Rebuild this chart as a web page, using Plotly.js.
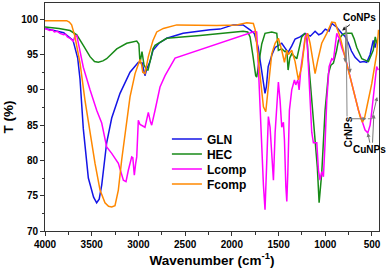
<!DOCTYPE html>
<html>
<head>
<meta charset="utf-8">
<script src="https://cdn.plot.ly/plotly-3.0.1.min.js"></script>
<style>html,body{margin:0;padding:0;background:#fff;}#chart{width:387px;height:275px;}</style>
</head>
<body>
<div id="chart"></div>
<script>
// ---- data ----
const seriesNames = ["GLN", "HEC", "Lcomp", "Fcomp"];

const glnWn = [4000,3900,3800,3700,3650,3625,3590,3536,3480,3447,3420,3393,3340,3286,3197,3090,3001,2960,2948,2930,2910,2876,2844,2780,2697,2522,2234,2126,1987,1880,1805,1760,1718,1690,1665,1645,1630,1611,1570,1537,1500,1466,1430,1398,1360,1323,1270,1216,1160,1109,1070,1038,1000,960,931,880,824,790,752,720,681,627,590,556,520,487,467,450];
const glnT  = [98.7,98.4,98.1,97.0,94.5,91.5,84.5,77.5,74.8,74.0,74.5,76.5,82.5,86.0,89.5,92.5,93.9,93.8,93.2,92.0,93.0,94.0,95.6,96.6,97.3,98.0,98.5,98.6,99.2,99.2,98.5,98.0,96.0,93.5,91.0,89.5,90.5,93.3,95.0,96.0,96.3,96.6,95.9,95.3,96.2,97.2,97.5,98.0,97.6,98.3,97.8,98.0,98.6,98.3,99.4,98.9,98.0,97.6,96.6,95.5,94.6,93.9,94.0,93.9,95.0,97.0,96.0,97.0];

const hecWn = [4000,3850,3732,3660,3590,3518,3470,3429,3380,3340,3232,3125,3018,2995,2983,2962,2940,2910,2897,2870,2844,2822,2697,2340,1880,1830,1805,1773,1745,1734,1715,1680,1645,1573,1519,1502,1466,1430,1412,1398,1380,1359,1305,1252,1216,1195,1180,1145,1109,1085,1066,1050,1038,1002,966,940,913,880,859,820,788,716,690,663,609,538,487,465,450];
const hecT  = [98.9,98.7,98.4,97.8,96.3,94.7,94.0,93.9,94.1,94.4,95.8,96.6,96.9,96.5,93.8,95.4,93.5,92.8,92.8,94.5,95.8,96.3,97.3,97.7,98.3,98.2,97.5,94.7,92.0,91.8,93.5,96.5,98.0,98.2,98.0,95.6,95.8,95.4,95.6,92.8,94.5,95.1,94.4,97.5,98.0,97.0,94.2,88.5,82.4,79.0,74.0,76.5,78.2,87.1,92.3,93.5,93.8,95.5,97.0,97.8,98.0,98.0,97.2,96.0,94.4,94.0,95.6,97.5,96.6];

const lcompWn = [4000,3950,3920,3900,3870,3840,3800,3780,3760,3732,3697,3680,3660,3640,3590,3518,3447,3393,3340,3286,3215,3161,3133,3108,3072,3060,3044,3030,3018,3001,2983,2930,2894,2872,2858,2822,2804,2769,2715,2626,2608,1752,1734,1716,1698,1680,1662,1645,1627,1609,1591,1573,1555,1537,1519,1502,1484,1466,1448,1437,1422,1412,1401,1384,1359,1330,1316,1294,1280,1259,1234,1216,1198,1180,1163,1145,1127,1091,1073,1056,1038,1020,1002,984,959,931,913,895,877,849,824,788,752,716,681,645,609,574,545,520,502,484,467,450,432];
const lcompT  = [98.7,98.4,98.5,98.2,98.3,98.0,97.8,97.9,97.5,97.3,96.9,97.6,97.7,96.5,93.2,90.0,87.1,85.3,81.9,81.0,79.6,77.2,77.0,78.6,80.5,80.4,77.9,79.5,80.5,85.7,85.1,84.7,86.8,85.5,85.0,87.1,88.1,90.4,92.0,94.2,94.5,98.3,98.2,93.2,86.7,81.0,76.5,73.0,79.1,86.2,84.7,80.1,77.2,83.9,88.5,91.1,88.5,84.7,85.4,82.9,76.3,74.2,78.2,87.1,90.0,91.4,90.7,91.4,90.0,93.3,95.6,97.5,98.0,93.3,87.1,84.0,82.5,82.5,78.6,77.2,78.4,77.7,82.5,88.5,93.3,94.4,94.2,96.6,98.0,97.2,96.0,94.7,92.8,91.2,89.0,87.1,85.7,84.3,83.9,85.0,87.0,89.0,91.4,93.3,92.8];

const fcompWn = [4000,3768,3740,3715,3679,3625,3572,3518,3465,3411,3358,3320,3286,3251,3215,3179,3143,3090,3036,2983,2965,2954,2930,2894,2844,2804,2733,2590,2162,1948,1840,1770,1750,1734,1698,1662,1637,1609,1573,1537,1502,1466,1437,1412,1395,1359,1323,1288,1252,1216,1188,1163,1127,1109,1080,1038,984,931,895,841,788,734,681,627,602,580,556,502,450,430];
const fcompT  = [99.8,99.8,99.6,99.2,97.5,93.8,88.5,83.9,79.6,75.8,74.0,73.5,73.4,73.6,75.8,80.1,83.9,89.0,92.3,94.3,93.5,92.5,92.3,94.7,97.0,98.2,98.7,99.2,99.1,99.2,99.5,99.4,98.5,96.6,91.8,87.6,86.9,90.9,95.1,96.6,97.3,95.6,93.9,95.6,95.0,95.6,94.0,91.4,93.3,97.2,98.0,96.6,93.3,92.3,94.2,96.6,98.0,99.6,99.5,97.5,94.6,91.8,89.0,86.2,85.4,86.0,87.5,90.9,95.1,98.5];

const xTickVals = [4000,3500,3000,2500,2000,1500,1000,500];
const yTickVals = [70,75,80,85,90,95,100];

// ---- styling ----
const colors = ["#1414e6", "#178a17", "#ff00ff", "#ff8800"];
const xs = [glnWn, hecWn, lcompWn, fcompWn];
const ys = [glnT, hecT, lcompT, fcompT];
const legendIds = ["legend", "legend2", "legend3", "legend4"];
const legendY = [0.4035, 0.338, 0.272, 0.206];

const FONT = "Liberation Sans, Arial, sans-serif";

const traces = seriesNames.map((n, i) => ({
  type: "scatter", mode: "lines", name: n,
  x: xs[i], y: ys[i],
  line: {color: colors[i], width: 1.5},
  legend: legendIds[i], showlegend: true
}));

const layout = {
  width: 387, height: 275,
  margin: {l: 45, r: 8, t: 3, b: 44},
  paper_bgcolor: "#fff", plot_bgcolor: "#fff",
  font: {family: FONT, color: "#000"},
  xaxis: {
    range: [4000, 425], tickvals: xTickVals, ticktext: xTickVals.map(String),
    ticks: "outside", ticklen: 4, tickwidth: 1, tickcolor: "#333",
    minor: {dtick: 250, tick0: 0, ticks: "outside", ticklen: 2.5, tickcolor: "#333"},
    showline: true, linecolor: "#333", linewidth: 1, mirror: true,
    showgrid: false, zeroline: false,
    tickfont: {size: 10, weight: "bold", family: FONT},
    title: {text: "Wavenumber (cm<sup>-1</sup>)", font: {size: 13.5, weight: "bold", family: FONT}, standoff: 6}
  },
  yaxis: {
    range: [70, 102.3], tickvals: yTickVals, ticktext: yTickVals.map(String),
    ticks: "outside", ticklen: 4, tickwidth: 1, tickcolor: "#333",
    minor: {dtick: 2.5, tick0: 0, ticks: "outside", ticklen: 2.5, tickcolor: "#333"},
    showline: true, linecolor: "#333", linewidth: 1, mirror: true,
    showgrid: false, zeroline: false,
    tickfont: {size: 10, weight: "bold", family: FONT},
    title: {text: "T (%)", font: {size: 13.5, weight: "bold", family: FONT}, standoff: 4}
  },
  annotations: [
    {x: 638, y: 100.2, xref: "x", yref: "y", text: "CoNPs", showarrow: false,
     font: {size: 10, weight: "bold", family: FONT}},
    {x: 756, y: 84.0, xref: "x", yref: "y", text: "CrNPs", showarrow: false, textangle: -90,
     font: {size: 10, weight: "bold", family: FONT}},
    {x: 526, y: 81.5, xref: "x", yref: "y", text: "CuNPs", showarrow: false,
     font: {size: 10, weight: "bold", family: FONT}},
    // CoNPs pointers
    {x: 820, y: 98.4, ax: 720, ay: 99.4, xref: "x", yref: "y", axref: "x", ayref: "y", text: "",
     showarrow: true, arrowhead: 2, arrowsize: 0.8, arrowwidth: 1, arrowcolor: "#222"},
    {x: 788, y: 93.9, ax: 777, ay: 99.1, xref: "x", yref: "y", axref: "x", ayref: "y", text: "",
     showarrow: true, arrowhead: 2, arrowsize: 0.8, arrowwidth: 1, arrowcolor: "#777"},
    {x: 734, y: 92.4, ax: 777, ay: 99.1, xref: "x", yref: "y", axref: "x", ayref: "y", text: "",
     showarrow: true, arrowhead: 2, arrowsize: 0.8, arrowwidth: 1, arrowcolor: "#777"},
    // CrNPs pointers
    {x: 777, y: 99.1, ax: 767, ay: 86.0, xref: "x", yref: "y", axref: "x", ayref: "y", text: "",
     showarrow: true, arrowhead: 0, arrowwidth: 1, arrowcolor: "#888"},
    {x: 560, y: 85.9, ax: 767, ay: 85.9, xref: "x", yref: "y", axref: "x", ayref: "y", text: "",
     showarrow: true, arrowhead: 2, arrowsize: 0.8, arrowwidth: 1, arrowcolor: "#777"},
    {x: 445, y: 89.0, ax: 499, ay: 85.9, xref: "x", yref: "y", axref: "x", ayref: "y", text: "",
     showarrow: true, arrowhead: 2, arrowsize: 0.8, arrowwidth: 1, arrowcolor: "#777"},
    {x: 499, y: 85.9, ax: 560, ay: 85.9, xref: "x", yref: "y", axref: "x", ayref: "y", text: "",
     showarrow: true, arrowhead: 0, arrowwidth: 1, arrowcolor: "#888"},
    // CuNPs pointers
    {x: 545, y: 83.9, ax: 520, ay: 82.3, xref: "x", yref: "y", axref: "x", ayref: "y", text: "",
     showarrow: true, arrowhead: 2, arrowsize: 0.8, arrowwidth: 1, arrowcolor: "#777"},
    {x: 480, y: 86.5, ax: 495, ay: 82.3, xref: "x", yref: "y", axref: "x", ayref: "y", text: "",
     showarrow: true, arrowhead: 2, arrowsize: 0.8, arrowwidth: 1, arrowcolor: "#777"}
  ]
};

legendIds.forEach((id, i) => {
  layout[id] = {
    x: 0.365, y: legendY[i], xanchor: "left", yanchor: "middle",
    bgcolor: "rgba(0,0,0,0)", borderwidth: 0,
    font: {size: 12, weight: "bold", family: FONT, color: "#000"}
  };
});

Plotly.newPlot("chart", traces, layout, {displayModeBar: false, staticPlot: true});
</script>
</body>
</html>
